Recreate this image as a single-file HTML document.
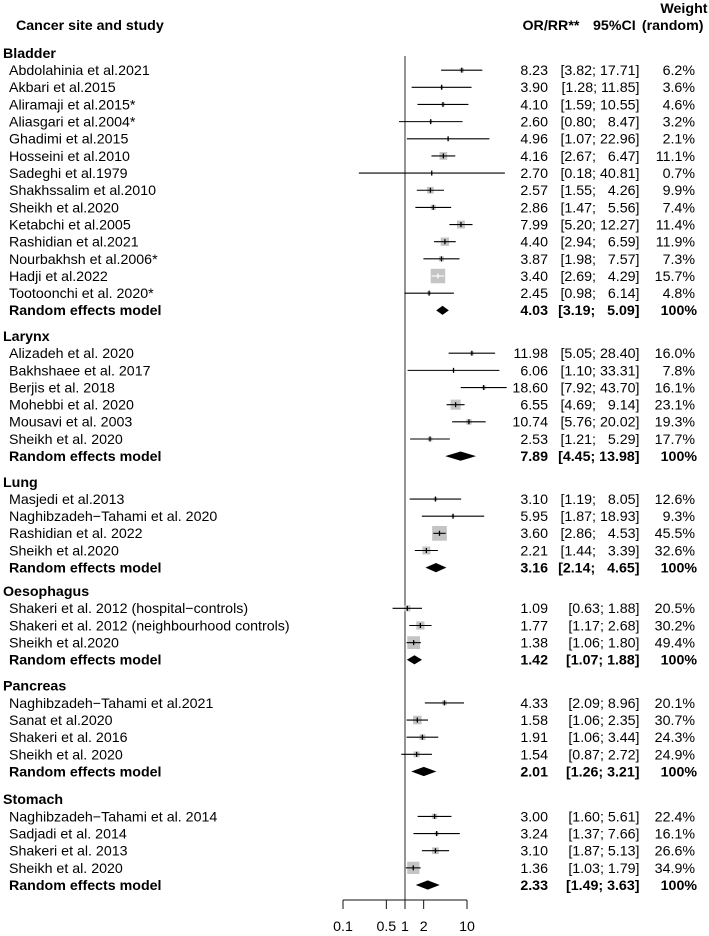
<!DOCTYPE html>
<html>
<head>
<meta charset="utf-8">
<title>Forest plot</title>
<style>
html,body{margin:0;padding:0;background:#fff;}
svg{display:block;}
text{font-family:"Liberation Sans",Arial,sans-serif;font-size:14.22px;fill:#000;white-space:pre;}
.b{font-weight:bold;}
</style>
</head>
<body>
<svg id="chart" xmlns="http://www.w3.org/2000/svg" width="709" height="936" viewBox="0 0 709 936"></svg>
<script>
const siteNames = ["Bladder","Larynx","Lung","Oesophagus","Pancreas","Stomach"];
const siteCounts = [14,6,4,3,4,4];
const studyNames = [
"Abdolahinia et al.2021","Akbari et al.2015","Aliramaji et al.2015*","Aliasgari et al.2004*","Ghadimi et al.2015","Hosseini et al.2010","Sadeghi et al.1979","Shakhssalim et al.2010","Sheikh et al.2020","Ketabchi et al.2005","Rashidian et al.2021","Nourbakhsh et al.2006*","Hadji et al.2022","Tootoonchi et al. 2020*",
"Alizadeh et al. 2020","Bakhshaee et al. 2017","Berjis et al. 2018","Mohebbi et al. 2020","Mousavi et al. 2003","Sheikh et al. 2020",
"Masjedi et al.2013","Naghibzadeh\u2212Tahami et al. 2020","Rashidian et al. 2022","Sheikh et al.2020",
"Shakeri et al. 2012 (hospital\u2212controls)","Shakeri et al. 2012 (neighbourhood controls)","Sheikh et al.2020",
"Naghibzadeh\u2212Tahami et al.2021","Sanat et al.2020","Shakeri et al. 2016","Sheikh et al. 2020",
"Naghibzadeh\u2212Tahami et al. 2014","Sadjadi et al. 2014","Shakeri et al. 2013","Sheikh et al. 2020"];
const estimates = [8.23,3.90,4.10,2.60,4.96,4.16,2.70,2.57,2.86,7.99,4.40,3.87,3.40,2.45, 11.98,6.06,18.60,6.55,10.74,2.53, 3.10,5.95,3.60,2.21, 1.09,1.77,1.38, 4.33,1.58,1.91,1.54, 3.00,3.24,3.10,1.36];
const ciLow = [3.82,1.28,1.59,0.80,1.07,2.67,0.18,1.55,1.47,5.20,2.94,1.98,2.69,0.98, 5.05,1.10,7.92,4.69,5.76,1.21, 1.19,1.87,2.86,1.44, 0.63,1.17,1.06, 2.09,1.06,1.06,0.87, 1.60,1.37,1.87,1.03];
const ciHigh = [17.71,11.85,10.55,8.47,22.96,6.47,40.81,4.26,5.56,12.27,6.59,7.57,4.29,6.14, 28.40,33.31,43.70,9.14,20.02,5.29, 8.05,18.93,4.53,3.39, 1.88,2.68,1.80, 8.96,2.35,3.44,2.72, 5.61,7.66,5.13,1.79];
const weights = [6.2,3.6,4.6,3.2,2.1,11.1,0.7,9.9,7.4,11.4,11.9,7.3,15.7,4.8, 16.0,7.8,16.1,23.1,19.3,17.7, 12.6,9.3,45.5,32.6, 20.5,30.2,49.4, 20.1,30.7,24.3,24.9, 22.4,16.1,26.6,34.9];
const pooledEstimates = [4.03,7.89,3.16,1.42,2.01,2.33];
const pooledLow = [3.19,4.45,2.14,1.07,1.26,1.49];
const pooledHigh = [5.09,13.98,4.65,1.88,3.21,3.63];
const whiteInside = ["Hadji et al.2022"];
const axisTicks = [0.1,0.5,1,2,10];
const axisTickLabels = ["0.1","0.5","1","2","10"];

const svg = document.getElementById('chart');
const NS = 'http://www.w3.org/2000/svg';
const xScale = v => 405 + 62 * Math.log10(v);
const rowStep = 17.155;
const rowY = r => 53 + rowStep * r;
const boxScale = 2.94;
/* the source figure nudges these two blocks upward slightly */
const blockNudge = s => (s === 3 ? -2.2 : s === 4 ? -2 : 0);

function mk(tag, attrs, parent) {
  const el = document.createElementNS(NS, tag);
  for (const k in attrs) el.setAttribute(k, attrs[k]);
  (parent || svg).appendChild(el);
  return el;
}
function label(str, x, y, anchor, bold, name) {
  const el = mk('text', {x: x, y: y, 'text-anchor': anchor});
  if (bold) el.setAttribute('class', 'b');
  el.textContent = str;
  
  
  return el;
}
function seg(x1, y1, x2, y2, color, width, parent) {
  return mk('line', {x1: x1, y1: y1, x2: x2, y2: y2, stroke: color, 'stroke-width': width}, parent);
}
function ciText(lo, hi, pad) {
  const gap = (pad && hi < 10) ? '   ' : ' ';
  return '[' + lo.toFixed(2) + ';' + gap + hi.toFixed(2) + ']';
}
const base = 4.9;

label("Cancer site and study", 16, 30, 'start', true, 'study-column-header');
label("OR/RR**", 522.5, 30, 'start', true, 'effect-column-header');
label("95%CI", 593, 30, 'start', true, 'ci-column-header');
label("Weight", 707.5, 13, 'end', true, 'weight-column-header');
label("(random)", 703.5, 30, 'end', true, 'weight-type-column-header');

/* reference line at 1 */
const refLine = seg(xScale(1), 56, xScale(1), 900, '#555', 1.25);



/* x axis */
const axisY = 900;
const axisGroup = mk('g', {});


const axisLine = seg(xScale(axisTicks[0]), axisY, xScale(axisTicks[axisTicks.length - 1]), axisY, '#111', 1, axisGroup);


axisTicks.forEach((t, i) => {
  const tick = seg(xScale(t), axisY, xScale(t), axisY + 9, '#111', 1, axisGroup);
  
  
  label(axisTickLabels[i], xScale(t), 931, 'middle', false, 'x-axis-tick-label');
});

/* rows */
let row = 0;
let studyIndex = 0;
siteNames.forEach((site, s) => {
  const nudge = blockNudge(s);
  const pad = ciHigh.slice(studyIndex, studyIndex + siteCounts[s]).some(h => h >= 10);
  label(site, 3, rowY(row) + nudge + base, 'start', true, 'site-heading');
  row += 1;
  for (let j = 0; j < siteCounts[s]; j++, studyIndex++, row++) {
    const i = studyIndex;
    const y = rowY(row) + nudge;
    label(studyNames[i], 9, y + base, 'start', false, 'study-name');
    label(estimates[i].toFixed(2), 548, y + base, 'end', false, 'study-estimate');
    label(ciText(ciLow[i], ciHigh[i], pad), 639.5, y + base, 'end', false, 'study-ci');
    label(weights[i].toFixed(1) + '%', 695, y + base, 'end', false, 'study-weight');

    const g = mk('g', {});
    
    
    const size = boxScale / Math.log10(ciHigh[i] / ciLow[i]);
    const cx = xScale(estimates[i]);
    const inner = whiteInside.includes(studyNames[i]) ? '#fff' : '#000';
    const box = mk('rect', {x: cx - size / 2, y: y - size / 2, width: size, height: size, fill: '#c4c4c4'}, g);
    
    
    const ci = seg(xScale(ciLow[i]), y, xScale(ciHigh[i]), y, inner, 1.1, g);
    
    
    const mid = seg(cx, y - 2.5, cx, y + 2.5, inner, 1.3, g);
    
    
  }
  const y = rowY(row) + nudge;
  label("Random effects model", 9, y + base, 'start', true, 'pooled-label');
  label(pooledEstimates[s].toFixed(2), 548, y + base, 'end', true, 'pooled-estimate');
  label(ciText(pooledLow[s], pooledHigh[s], pad), 639.5, y + base, 'end', true, 'pooled-ci');
  label('100%', 697, y + base, 'end', true, 'pooled-weight');
  const diamond = mk('polygon', {
    points: [[xScale(pooledLow[s]), y], [xScale(pooledEstimates[s]), y - 4.6], [xScale(pooledHigh[s]), y], [xScale(pooledEstimates[s]), y + 4.6]].map(p => p.join(',')).join(' '),
    fill: '#000'
  });
  
  
  row += 1.5;
});
</script>
</body>
</html>
